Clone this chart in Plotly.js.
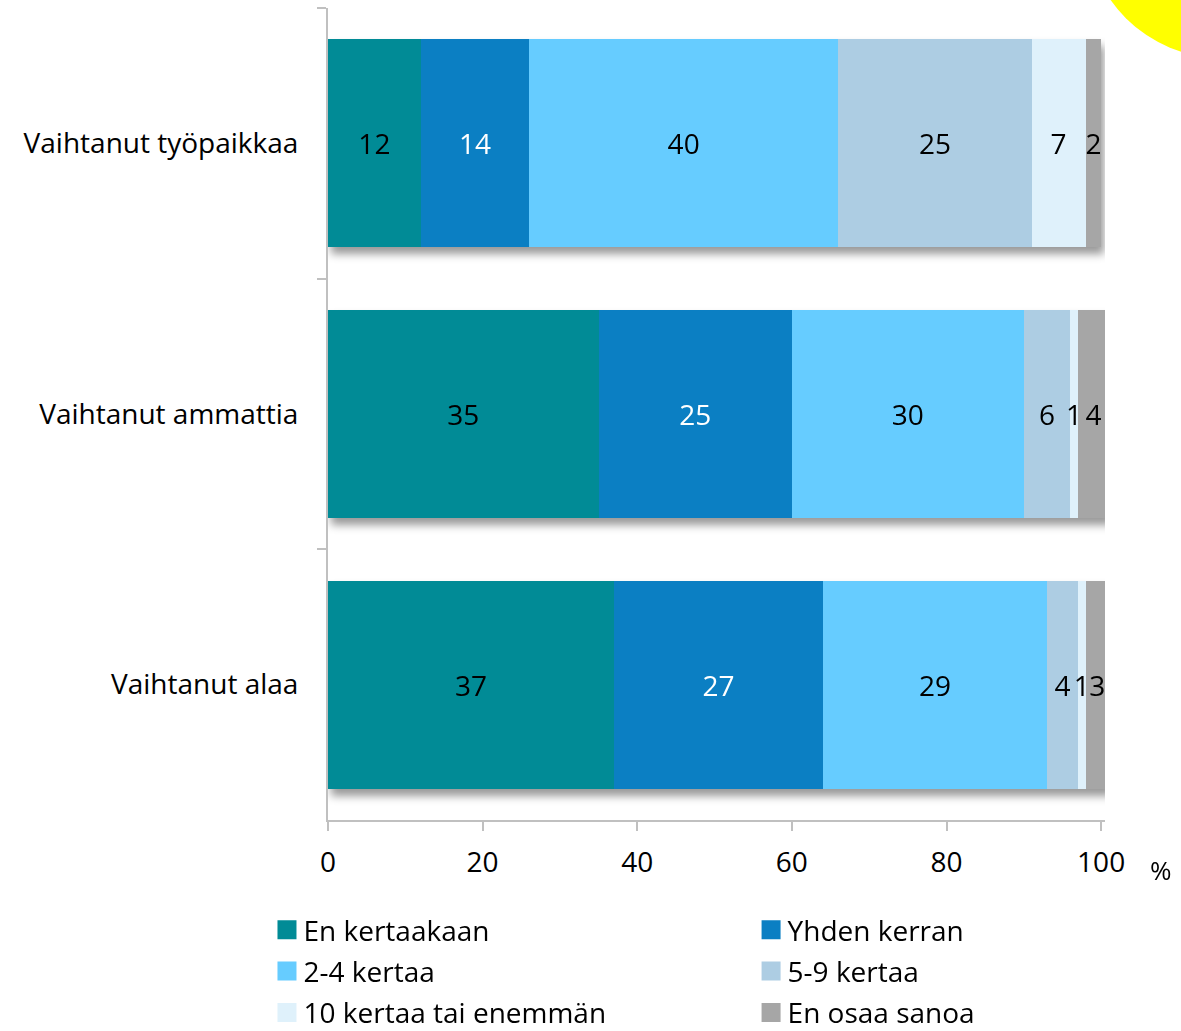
<!DOCTYPE html>
<html>
<head>
<meta charset="utf-8">
<script src="https://cdn.plot.ly/plotly-3.0.1.min.js"></script>
<style>
  html, body { margin: 0; padding: 0; background: #ffffff; overflow: hidden; }
  #chart { width: 1181px; height: 1031px; position: relative; }
  #sun { position: absolute; left: 1086px; top: -214px; width: 272px; height: 272px; border-radius: 50%; background: #ffff00; z-index: 5; pointer-events: none; }
  #chart .barlayer { filter: drop-shadow(3px 7px 4px rgba(0,0,0,0.4)); }
</style>
</head>
<body>
<div id="chart"></div>
<div id="sun"></div>
<script>
// ---- data ----
const categories = ['Vaihtanut työpaikkaa', 'Vaihtanut ammattia', 'Vaihtanut alaa'];
const seriesNames = ['En kertaakaan', 'Yhden kerran', '2-4 kertaa', '5-9 kertaa', '10 kertaa tai enemmän', 'En osaa sanoa'];
const enKertaakaan = [12, 35, 37];
const yhdenKerran = [14, 25, 27];
const kertaa2to4 = [40, 30, 29];
const kertaa5to9 = [25, 6, 4];
const kertaa10plus = [7, 1, 1];
const enOsaaSanoa = [2, 4, 3];
const xTickValues = [0, 20, 40, 60, 80, 100];
const xTickLabels = ['0', '20', '40', '60', '80', '100'];

// ---- styles ----
const seriesValues = [enKertaakaan, yhdenKerran, kertaa2to4, kertaa5to9, kertaa10plus, enOsaaSanoa];
const colors = ['#018b96', '#0b7fc3', '#66ccff', '#adcde3', '#dff1fb', '#a6a6a6'];
const textColors = ['#000000', '#ffffff', '#000000', '#000000', '#000000', '#000000'];
const FONT = '"Open Sans", "Liberation Sans", sans-serif';
const FS = 28;

const traces = seriesValues.map((vals, i) => ({
  type: 'bar',
  orientation: 'h',
  name: seriesNames[i],
  x: vals,
  y: categories,
  marker: { color: colors[i], line: { width: 0 } },
  text: vals.map(String),
  textposition: 'inside',
  insidetextanchor: 'middle',
  constraintext: 'none',
  textangle: 0,
  textfont: { family: FONT, size: FS, color: textColors[i] },
  hoverinfo: 'skip',
  legend: (i % 2 === 0) ? 'legend' : 'legend2',
  legendgroup: 'g' + i,
  showlegend: true
}));

const legendCommon = {
  orientation: 'v',
  xref: 'container',
  yref: 'container',
  xanchor: 'left',
  yanchor: 'top',
  font: { family: FONT, size: FS, color: '#000000' },
  bgcolor: 'rgba(0,0,0,0)',
  borderwidth: 0,
  traceorder: 'grouped',
  tracegroupgap: 2,
  itemwidth: 30
};

const layout = {
  width: 1181,
  height: 1031,
  margin: { l: 328, r: 76, t: 8, b: 211, pad: 0, autoexpand: false },
  paper_bgcolor: '#ffffff',
  plot_bgcolor: '#ffffff',
  barmode: 'stack',
  bargap: 0.232,
  font: { family: FONT, size: FS, color: '#000000' },
  showlegend: true,
  xaxis: {
    range: [0, 100.5],
    tickvals: xTickValues,
    ticktext: xTickLabels,
    ticks: 'outside',
    ticklen: 9,
    tickwidth: 2,
    tickcolor: '#c0c0c0',
    showline: true,
    linecolor: '#c0c0c0',
    linewidth: 2,
    showgrid: false,
    zeroline: false,
    tickfont: { family: FONT, size: FS, color: '#000000' },
    ticklabelstandoff: 7,
    automargin: false,
    fixedrange: true
  },
  yaxis: {
    type: 'category',
    autorange: 'reversed',
    ticks: 'outside',
    tickson: 'boundaries',
    ticklen: 9,
    tickwidth: 2,
    tickcolor: '#c0c0c0',
    showline: true,
    linecolor: '#c0c0c0',
    linewidth: 2,
    showgrid: false,
    zeroline: false,
    tickfont: { family: FONT, size: FS, color: '#000000' },
    ticklabelstandoff: 22,
    automargin: false,
    fixedrange: true
  },
  legend: Object.assign({}, legendCommon, { x: 0.2231, y: 0.1222 }),
  legend2: Object.assign({}, legendCommon, { x: 0.633, y: 0.1222 }),
  annotations: [{
    xref: 'paper', yref: 'paper',
    x: 1.072, y: -0.0616,
    xanchor: 'center', yanchor: 'middle',
    text: '%',
    showarrow: false,
    font: { family: FONT, size: 26, color: '#000000' }
  }]
};

Plotly.newPlot('chart', traces, layout, { displayModeBar: false, staticPlot: true }).then(function () {
  document.querySelectorAll('#chart .legendpoints path').forEach(function (p) {
    p.removeAttribute('transform');
    p.setAttribute('d', 'M33,9.5H14V-9.5H33Z');
    p.style.strokeWidth = '0px';
  });
});
</script>
</body>
</html>
